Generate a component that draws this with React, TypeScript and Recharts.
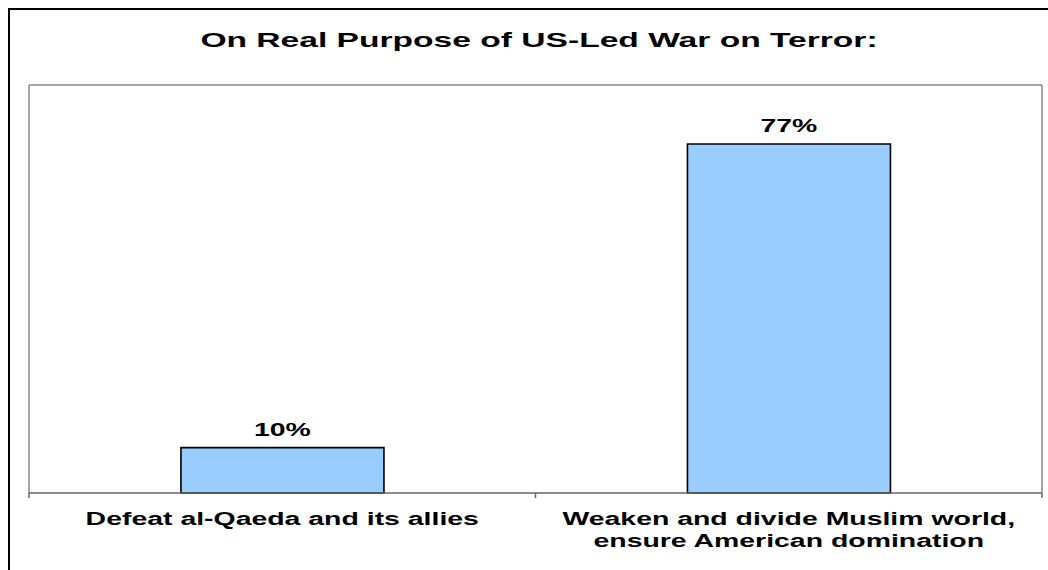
import { BarChart, Bar, XAxis, YAxis, LabelList, ReferenceLine } from "recharts";

const categories = [
  "Defeat al-Qaeda and its allies",
  "Weaken and divide Muslim world,\nensure American domination",
];
const shares = [10, 77];
const yDomain = [0, 90];
const edgeTicks = [0, 1, 2];
const title = "On Real Purpose of US-Led War on Terror:";

const data = categories.map((name, i) => ({ name, value: shares[i] }));

const FONT = "'Liberation Sans', Arial, sans-serif";
const STRETCH = 1.58;
const GRAY = "#888888";

function CategoryTick(props: any) {
  const { x, y, payload } = props;
  const lines = String(payload.value).split("\n");
  return (
    <g>
      {lines.map((line, i) => (
        <text
          key={i}
          transform={`translate(${x},${y + 32 + i * 22}) scale(${STRETCH},1)`}
          textAnchor="middle"
          fontFamily={FONT}
          fontSize={18}
          fontWeight="bold"
          fill="#000"
        >
          {line}
        </text>
      ))}
    </g>
  );
}

function ValueLabel(props: any) {
  const { x, y, width, value } = props;
  return (
    <text
      transform={`translate(${x + width / 2},${y - 12}) scale(${STRETCH},1)`}
      textAnchor="middle"
      fontFamily={FONT}
      fontSize={18}
      fontWeight="bold"
      fill="#000"
    >
      {value}%
    </text>
  );
}

export default function App() {
  return (
    <div style={{ position: "absolute", left: 0, top: 0, width: 1048, height: 570, background: "#fff" }}>
      <svg width={1048} height={570} style={{ position: "absolute", left: 0, top: 0 }}>
        <path d="M9 570 V9 H1048" fill="none" stroke="#000" strokeWidth={2} />
        <text
          transform={`translate(539,47) scale(1.6,1)`}
          textAnchor="middle"
          fontFamily={FONT}
          fontSize={21}
          fontWeight="bold"
          fill="#000"
        >
          {title}
        </text>
      </svg>
      <div style={{ position: "absolute", left: 0, top: 0 }}>
        <BarChart
          width={1048}
          height={570}
          data={data}
          margin={{ top: 84, right: 5, bottom: 17, left: 28 }}
          barCategoryGap="30%"
        >
          <XAxis
            dataKey="name"
            xAxisId="cat"
            axisLine={{ stroke: "#666666", strokeWidth: 1.5 }}
            tickLine={false}
            tickSize={0}
            tickMargin={0}
            height={60}
            interval={0}
            tick={<CategoryTick />}
          />
          <XAxis
            xAxisId="edges"
            type="number"
            dataKey="edge"
            domain={[0, 2]}
            ticks={edgeTicks}
            allowDataOverflow
            hide
          />
          <XAxis
            xAxisId="top"
            orientation="top"
            axisLine={{ stroke: GRAY, strokeWidth: 1.5 }}
            tick={false}
            tickLine={false}
            height={1}
          />
          <YAxis
            yAxisId="left"
            domain={yDomain}
            axisLine={{ stroke: GRAY, strokeWidth: 1.5 }}
            tick={false}
            tickLine={false}
            width={1}
          />
          <YAxis
            yAxisId="right"
            orientation="right"
            axisLine={{ stroke: GRAY, strokeWidth: 1.5 }}
            tick={false}
            tickLine={false}
            width={1}
          />
          {edgeTicks.map((t) => (
            <ReferenceLine
              key={t}
              xAxisId="edges"
              yAxisId="left"
              segment={[
                { x: t, y: 0 },
                { x: t, y: -1.1 },
              ]}
              ifOverflow="visible"
              stroke="#666666"
              strokeWidth={1.5}
            />
          ))}
          <Bar
            dataKey="value"
            xAxisId="cat"
            yAxisId="left"
            fill="#99CCFF"
            stroke="#000"
            strokeWidth={1.6}
            isAnimationActive={false}
          >
            <LabelList dataKey="value" content={<ValueLabel />} />
          </Bar>
        </BarChart>
      </div>
    </div>
  );
}
